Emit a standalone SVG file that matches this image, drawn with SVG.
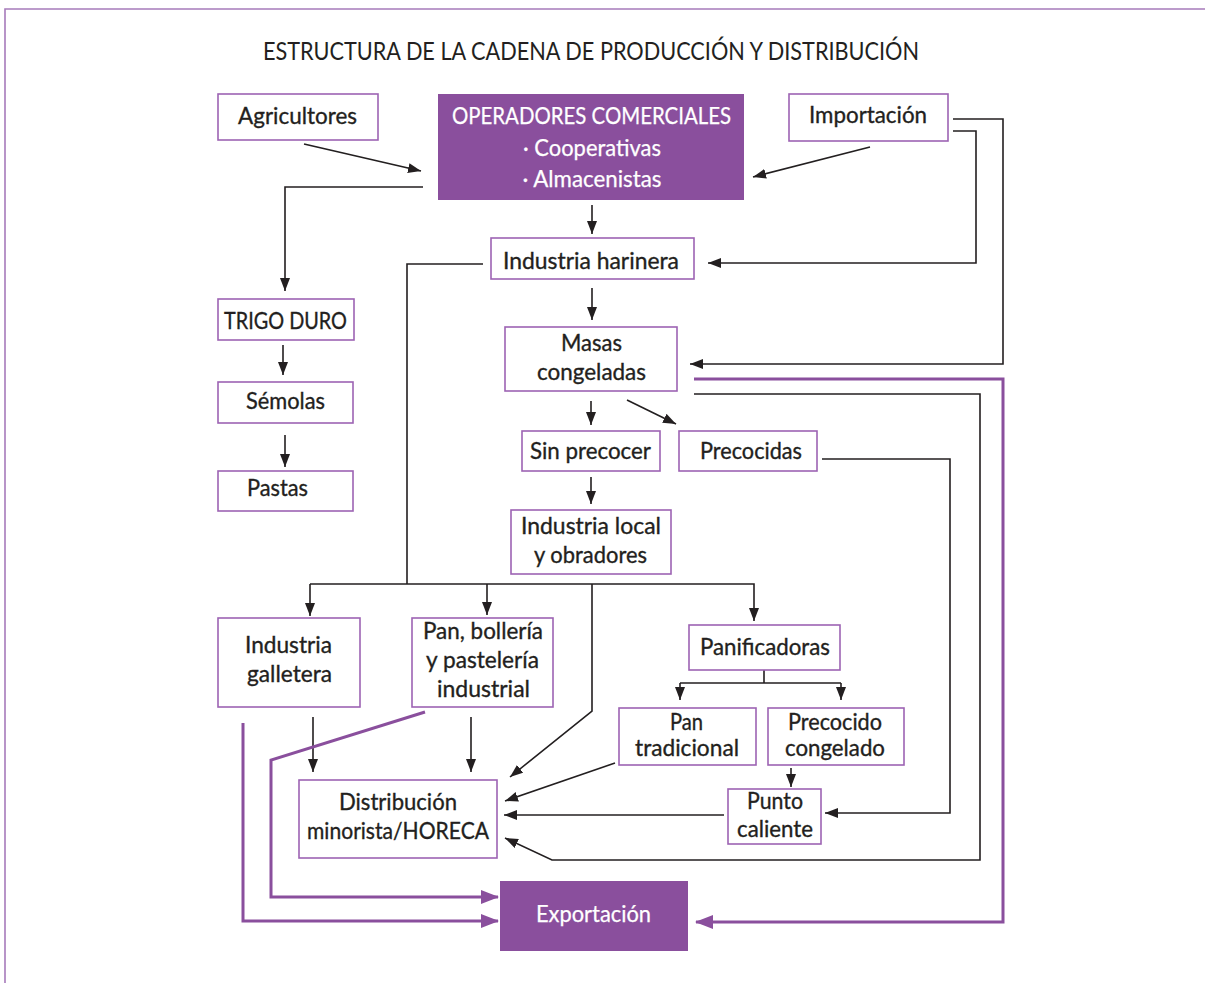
<svg xmlns="http://www.w3.org/2000/svg" width="1205" height="983" viewBox="0 0 1205 983">
<defs>
<style>
.box{fill:#ffffff;stroke:#9d63b3;stroke-width:1.6}
.fbox{fill:#8a4f9d;stroke:none}
.t{font-family:Lato,"Liberation Sans",sans-serif;font-size:23.5px;fill:#231f20;stroke:#231f20;stroke-width:0.35;text-anchor:middle}
.tw{font-family:Lato,"Liberation Sans",sans-serif;font-size:23.5px;fill:#ffffff;stroke:#ffffff;stroke-width:0.25;text-anchor:middle}
.title{font-family:Lato,"Liberation Sans",sans-serif;font-size:25.5px;fill:#231f20;text-anchor:middle}
.ln{fill:none;stroke:#231f20;stroke-width:1.6}
.ar{fill:none;stroke:#231f20;stroke-width:1.6;marker-end:url(#ah)}
.pl{fill:none;stroke:#8a4f9d;stroke-width:3}
.pa{fill:none;stroke:#8a4f9d;stroke-width:3;marker-end:url(#ph)}
</style>
<marker id="ah" markerUnits="userSpaceOnUse" markerWidth="13" markerHeight="10" refX="13" refY="5" orient="auto">
<path d="M0,0 L13,5 L0,10 z" fill="#231f20"/>
</marker>
<marker id="ph" markerUnits="userSpaceOnUse" markerWidth="18" markerHeight="14" refX="17" refY="7" orient="auto">
<path d="M0,0 L18,7 L0,14 z" fill="#8a4f9d"/>
</marker>
</defs>
<rect x="0" y="0" width="1205" height="983" fill="#ffffff"/>
<path d="M5,983 V9 H1205" fill="none" stroke="#a77bbb" stroke-width="1.6"/>
<text class="title" x="591" y="60" textLength="656" lengthAdjust="spacingAndGlyphs">ESTRUCTURA DE LA CADENA DE PRODUCCIÓN Y DISTRIBUCIÓN</text>

<g id="connectors">
<path class="ar" d="M304,144 L421,171"/>
<path class="ar" d="M870,147 L753,177"/>
<path class="ar" d="M423,187 H285 V291"/>
<path class="ar" d="M592,205 V234"/>
<path class="ar" d="M953,119 H1003 V364 H690"/>
<path class="ar" d="M953,131 H976 V263 H708"/>
<path class="ar" d="M283,345 V375"/>
<path class="ar" d="M285,435 V467"/>
<path class="ln" d="M483,264 H407 V584"/>
<path class="ar" d="M310,584 H754 V621"/>
<path class="ar" d="M310,584 V616"/>
<path class="ar" d="M487,584 V615"/>
<path class="ar" d="M592,584 V711 L510,777"/>
<path class="ar" d="M592,288 V320"/>
<path class="ar" d="M591,401 V425"/>
<path class="ar" d="M627,400 L676,424"/>
<path class="ar" d="M591,477 V504"/>
<path class="ar" d="M822,459 H950 V813 H825"/>
<path class="ar" d="M694,394 H980 V860 H552 L505,838"/>
<path class="ar" d="M313,717 V772"/>
<path class="ar" d="M471,717 V772"/>
<path class="ln" d="M764,670 V683 M680,683 H841"/>
<path class="ar" d="M680,683 V700"/>
<path class="ar" d="M841,683 V700"/>
<path class="ar" d="M791,768 V787"/>
<path class="ar" d="M724,815 H504"/>
<path class="ar" d="M615,763 L505,801"/>
<path class="pa" d="M694,379 H1003 V922 H696"/>
<path class="pa" d="M425,712 L271,760 V897 H498"/>
<path class="pa" d="M243,723 V921 H498"/>
</g>

<g id="agricultores"><rect class="box" x="218" y="94" width="160" height="46"/><text class="t" x="297.5" y="124" textLength="119" lengthAdjust="spacingAndGlyphs">Agricultores</text></g>
<g id="operadores"><rect class="fbox" x="438" y="94" width="306" height="106"/>
<text class="tw" x="591.5" y="124" textLength="279" lengthAdjust="spacingAndGlyphs">OPERADORES COMERCIALES</text>
<text class="tw" x="592" y="156" textLength="138" lengthAdjust="spacingAndGlyphs">· Cooperativas</text>
<text class="tw" x="592" y="187" textLength="139" lengthAdjust="spacingAndGlyphs">· Almacenistas</text></g>
<g id="importacion"><rect class="box" x="789" y="94" width="159" height="47"/><text class="t" x="868" y="123" textLength="118" lengthAdjust="spacingAndGlyphs">Importación</text></g>
<g id="harinera"><rect class="box" x="491" y="238" width="203" height="41"/><text class="t" x="591" y="269" textLength="176" lengthAdjust="spacingAndGlyphs">Industria harinera</text></g>
<g id="trigo"><rect class="box" x="218" y="299" width="136" height="41"/><text class="t" x="285.5" y="329" textLength="123" lengthAdjust="spacingAndGlyphs">TRIGO DURO</text></g>
<g id="semolas"><rect class="box" x="218" y="382" width="135" height="41"/><text class="t" x="285.5" y="409" textLength="79" lengthAdjust="spacingAndGlyphs">Sémolas</text></g>
<g id="pastas"><rect class="box" x="218" y="471" width="135" height="40"/><text class="t" x="277.5" y="496" textLength="61" lengthAdjust="spacingAndGlyphs">Pastas</text></g>
<g id="masas"><rect class="box" x="505" y="327" width="172" height="64"/><text class="t" x="591.5" y="351" textLength="61" lengthAdjust="spacingAndGlyphs">Masas</text><text class="t" x="591.5" y="380" textLength="109" lengthAdjust="spacingAndGlyphs">congeladas</text></g>
<g id="sinprecocer"><rect class="box" x="522" y="431" width="138" height="40"/><text class="t" x="590.5" y="459" textLength="121" lengthAdjust="spacingAndGlyphs">Sin precocer</text></g>
<g id="precocidas"><rect class="box" x="679" y="431" width="138" height="40"/><text class="t" x="751" y="459" textLength="102" lengthAdjust="spacingAndGlyphs">Precocidas</text></g>
<g id="industrialocal"><rect class="box" x="511" y="510" width="160" height="64"/><text class="t" x="591" y="534" textLength="140" lengthAdjust="spacingAndGlyphs">Industria local</text><text class="t" x="590.5" y="563" textLength="113" lengthAdjust="spacingAndGlyphs">y obradores</text></g>
<g id="galletera"><rect class="box" x="218" y="618" width="142" height="89"/><text class="t" x="288.5" y="653" textLength="87" lengthAdjust="spacingAndGlyphs">Industria</text><text class="t" x="289.5" y="682" textLength="85" lengthAdjust="spacingAndGlyphs">galletera</text></g>
<g id="panbolleria"><rect class="box" x="412" y="618" width="141" height="89"/><text class="t" x="483" y="639" textLength="120" lengthAdjust="spacingAndGlyphs">Pan, bollería</text><text class="t" x="482.5" y="668" textLength="113" lengthAdjust="spacingAndGlyphs">y pastelería</text><text class="t" x="483.5" y="697" textLength="93" lengthAdjust="spacingAndGlyphs">industrial</text></g>
<g id="panificadoras"><rect class="box" x="689" y="625" width="151" height="45"/><text class="t" x="765" y="655" textLength="130" lengthAdjust="spacingAndGlyphs">Panificadoras</text></g>
<g id="pantradicional"><rect class="box" x="619" y="708" width="137" height="57"/><text class="t" x="686.5" y="730" textLength="33" lengthAdjust="spacingAndGlyphs">Pan</text><text class="t" x="687" y="756" textLength="104" lengthAdjust="spacingAndGlyphs">tradicional</text></g>
<g id="precocido"><rect class="box" x="768" y="708" width="136" height="57"/><text class="t" x="835" y="730" textLength="94" lengthAdjust="spacingAndGlyphs">Precocido</text><text class="t" x="835" y="756" textLength="100" lengthAdjust="spacingAndGlyphs">congelado</text></g>
<g id="punto"><rect class="box" x="728" y="789" width="93" height="55"/><text class="t" x="775" y="809" textLength="56" lengthAdjust="spacingAndGlyphs">Punto</text><text class="t" x="775" y="837" textLength="76" lengthAdjust="spacingAndGlyphs">caliente</text></g>
<g id="distribucion"><rect class="box" x="299" y="780" width="198" height="78"/><text class="t" x="398" y="810" textLength="118" lengthAdjust="spacingAndGlyphs">Distribución</text><text class="t" x="398" y="839" textLength="182" lengthAdjust="spacingAndGlyphs">minorista/HORECA</text></g>
<g id="exportacion"><rect class="fbox" x="500" y="881" width="188" height="70"/><text class="tw" x="593.5" y="922" textLength="115" lengthAdjust="spacingAndGlyphs">Exportación</text></g>
</svg>
